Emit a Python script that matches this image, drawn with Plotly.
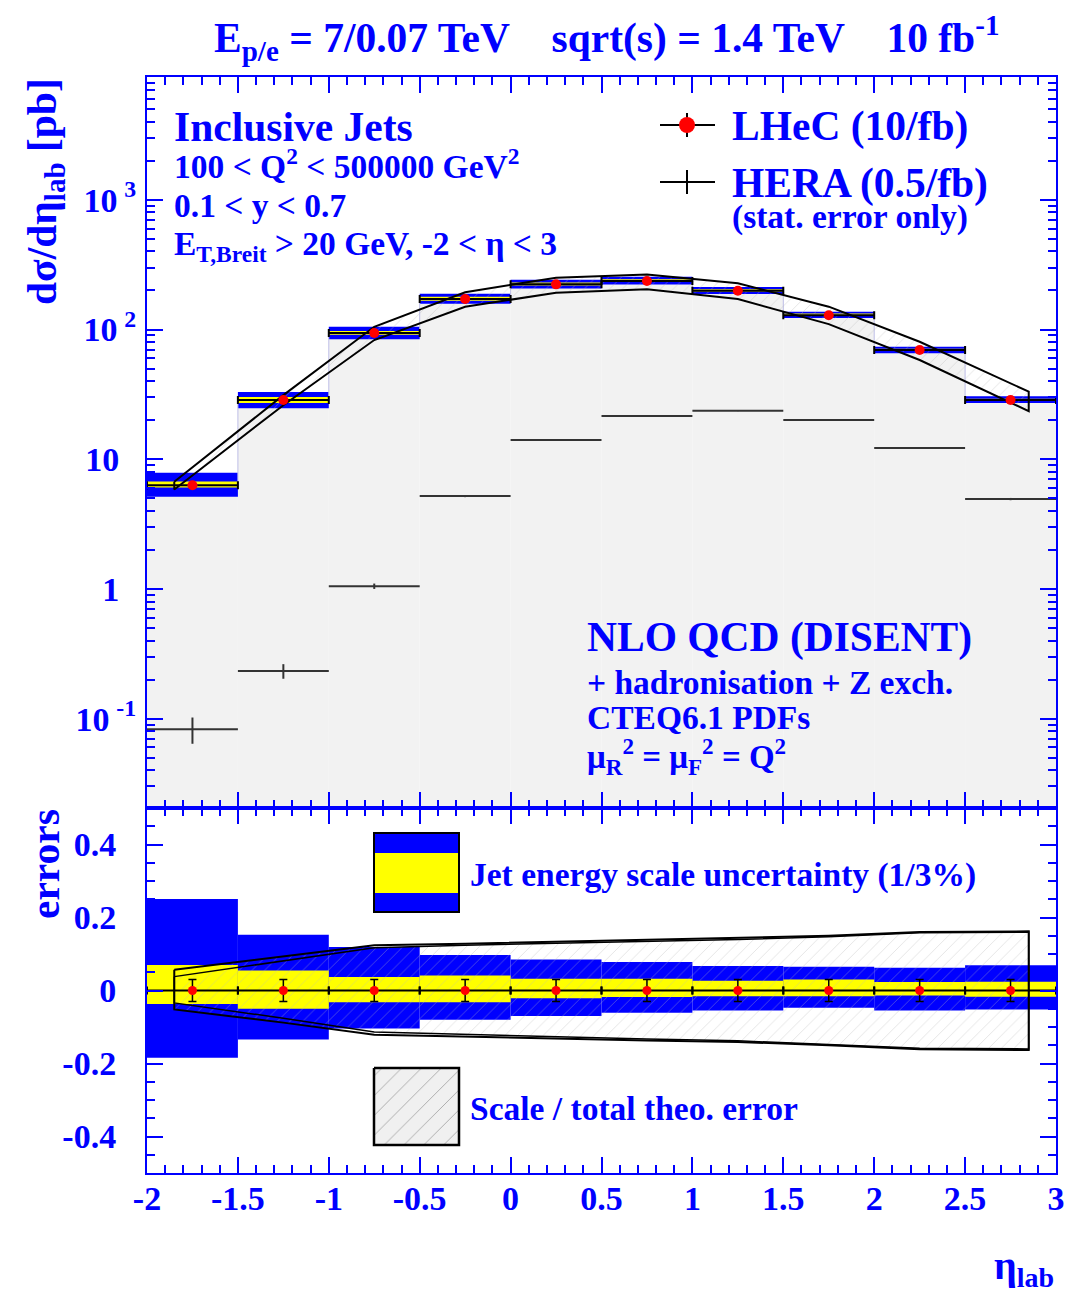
import plotly.graph_objects as go

# ---------------------------------------------------------------- data
eta_edges = [-2.0, -1.5, -1.0, -0.5, 0.0, 0.5, 1.0, 1.5, 2.0, 2.5, 3.0]
eta_centers = [-1.75, -1.25, -0.75, -0.25, 0.25, 0.75, 1.25, 1.75, 2.25, 2.75]

# LHeC simulated inclusive-jet cross section dsigma/deta_lab [pb]
lhec_xsec = [6.3, 28.6, 94.0, 172.0, 223.0, 237.0, 199.0, 129.0, 69.5, 28.6]
lhec_ratio = [0.0, 0.0, 0.0, 0.0, 0.0, 0.0, 0.0, 0.0, 0.0, 0.0]
lhec_rel_stat = [0.03, 0.03, 0.03, 0.03, 0.03, 0.03, 0.03, 0.03, 0.03, 0.03]

# HERA expectation (0.5/fb), statistical errors only
hera_xsec = [0.083, 0.233, 1.05, 5.2, 14.1, 21.5, 23.7, 20.1, 12.2, 4.93]
hera_err = [0.019, 0.030, 0.05, 0.10, 0.17, 0.20, 0.22, 0.20, 0.15, 0.10]

# jet energy scale uncertainty, relative (3% -> blue, 1% -> yellow)
jes3_up = [0.251, 0.153, 0.119, 0.097, 0.085, 0.078, 0.067, 0.065, 0.062, 0.069]
jes3_dn = [-0.184, -0.134, -0.104, -0.080, -0.070, -0.061, -0.055, -0.047, -0.055, -0.052]
jes1_up = [0.070, 0.055, 0.037, 0.041, 0.032, 0.032, 0.027, 0.030, 0.023, 0.024]
jes1_dn = [-0.037, -0.050, -0.032, -0.032, -0.021, -0.018, -0.016, -0.016, -0.014, -0.017]

# NLO theory band (DISENT) in absolute units
theo_eta = [-1.85, -1.25, -0.75, -0.25, 0.25, 0.75, 1.25, 1.75, 2.25, 2.85]
theo_up = [6.7, 31.2, 105.0, 194.0, 251.0, 266.0, 227.0, 150.0, 80.5, 33.2]
theo_dn = [5.85, 26.1, 83.0, 150.0, 192.0, 204.0, 172.0, 110.0, 58.2, 23.5]

# relative theory uncertainties: total and scale-only
tot_up = [0.057, 0.093, 0.124, 0.128, 0.133, 0.138, 0.143, 0.150, 0.160, 0.162]
tot_dn = [-0.052, -0.088, -0.121, -0.125, -0.131, -0.137, -0.141, -0.150, -0.161, -0.163]
scale_up = [0.038, 0.080, 0.117, 0.124, 0.129, 0.134, 0.140, 0.147, 0.158, 0.160]
scale_dn = [-0.034, -0.076, -0.114, -0.121, -0.127, -0.133, -0.138, -0.147, -0.158, -0.160]

top_ticks = [0.1, 1, 10, 100, 1000]
top_ticktext = ["10\u2009<sup>-1</sup>", "1\u2002", "10\u2002",
                "10\u2009<sup>2</sup>", "10\u2009<sup>3</sup>"]
err_ticks = [-0.4, -0.2, 0.0, 0.2, 0.4]
err_ticktext = ["-0.4", "-0.2", "0", "0.2", "0.4"]
eta_ticks = [-2, -1.5, -1, -0.5, 0, 0.5, 1, 1.5, 2, 2.5, 3]
eta_ticktext = ["-2", "-1.5", "-1", "-0.5", "0", "0.5", "1", "1.5", "2", "2.5", "3"]

# ---------------------------------------------------------------- layout constants
W, H = 1071, 1293
BLUE = "#0000ff"
FONT = "Liberation Serif"

X_RANGE = [-2.0, 3.0]
LOG_RANGE = [-1.689, 3.947]
ERR_RANGE = [-0.5, 0.5]
PLOT_LEFT, PLOT_RIGHT = 147, 1056
TOP_TOP, SPLIT, BOT_BOT = 77, 808, 1173


def fx(px):
    return px / W


def fy(py):
    return 1 - py / H


def lower_xy(px, py):
    """pixel position -> data coordinates of the lower (errors) panel"""
    x = X_RANGE[0] + (px - PLOT_LEFT) / (PLOT_RIGHT - PLOT_LEFT) * (X_RANGE[1] - X_RANGE[0])
    y = ERR_RANGE[1] - (py - SPLIT) / (BOT_BOT - SPLIT) * (ERR_RANGE[1] - ERR_RANGE[0])
    return x, y


fig = go.Figure()

# ---------------------------------------------------------------- upper panel
y_floor = 10 ** LOG_RANGE[0]
fig.add_bar(x=eta_centers, y=[v - y_floor for v in lhec_xsec], base=y_floor, width=0.5,
            marker=dict(color="#f2f2f2", line=dict(width=0)), xaxis="x", yaxis="y")
fig.add_bar(x=eta_centers,
            y=[v * (u - d) for v, u, d in zip(lhec_xsec, jes3_up, jes3_dn)],
            base=[v * (1 + d) for v, d in zip(lhec_xsec, jes3_dn)], width=0.5,
            marker=dict(color=BLUE, line=dict(width=0)), xaxis="x", yaxis="y")
fig.add_bar(x=eta_centers,
            y=[v * (u - d) for v, u, d in zip(lhec_xsec, jes1_up, jes1_dn)],
            base=[v * (1 + d) for v, d in zip(lhec_xsec, jes1_dn)], width=0.5,
            marker=dict(color="#ffff00", line=dict(width=0)), xaxis="x", yaxis="y")

# histogram outline
fig.add_scatter(x=eta_edges, y=lhec_xsec + [lhec_xsec[-1]], mode="lines",
                line=dict(shape="hv", color="#bdbde6", width=1), xaxis="x", yaxis="y")

# theory band
fig.add_scatter(x=theo_eta + theo_eta[::-1] + [theo_eta[0]],
                y=theo_up + theo_dn[::-1] + [theo_up[0]],
                mode="lines", fill="toself", fillcolor="rgba(0,0,0,0)",
                fillpattern=dict(shape="/", fgcolor="#b9b9b9", bgcolor="rgba(0,0,0,0)",
                                 size=9, solidity=0.08),
                line=dict(color="black", width=2), xaxis="x", yaxis="y")

# HERA
fig.add_scatter(x=eta_centers, y=hera_xsec, mode="markers",
                marker=dict(size=1, color="rgba(0,0,0,0)"),
                error_x=dict(type="constant", value=0.25, color="#333333", thickness=2, width=0),
                error_y=dict(type="data", array=hera_err, color="#333333", thickness=2, width=0),
                xaxis="x", yaxis="y")

# LHeC
fig.add_scatter(x=eta_centers, y=lhec_xsec, mode="markers",
                marker=dict(size=10, color="#ff0000"),
                error_x=dict(type="constant", value=0.25, color="black", thickness=2, width=4),
                xaxis="x", yaxis="y")

# ---------------------------------------------------------------- lower panel
fig.add_bar(x=eta_centers, y=[u - d for u, d in zip(jes3_up, jes3_dn)], base=jes3_dn, width=0.5,
            marker=dict(color=BLUE, line=dict(width=0)), xaxis="x2", yaxis="y2")
fig.add_bar(x=eta_centers, y=[u - d for u, d in zip(jes1_up, jes1_dn)], base=jes1_dn, width=0.5,
            marker=dict(color="#ffff00", line=dict(width=0)), xaxis="x2", yaxis="y2")

fig.add_scatter(x=theo_eta + theo_eta[::-1] + [theo_eta[0]],
                y=tot_up + tot_dn[::-1] + [tot_up[0]],
                mode="lines", fill="toself", fillcolor="rgba(0,0,0,0)",
                fillpattern=dict(shape="/", fgcolor="#b9b9b9", bgcolor="rgba(0,0,0,0)",
                                 size=9, solidity=0.08),
                line=dict(color="black", width=2), xaxis="x2", yaxis="y2")
fig.add_scatter(x=theo_eta + theo_eta[::-1] + [theo_eta[0]],
                y=scale_up + scale_dn[::-1] + [scale_up[0]],
                mode="lines", line=dict(color="black", width=1.5), xaxis="x2", yaxis="y2")

fig.add_scatter(x=eta_centers, y=lhec_ratio, mode="markers",
                marker=dict(size=9, color="#ff0000"),
                error_x=dict(type="constant", value=0.25, color="black", thickness=2, width=4),
                error_y=dict(type="data", array=lhec_rel_stat, color="black", thickness=1.5, width=4),
                xaxis="x2", yaxis="y2")

# key swatch for the theory band
bx0, by0 = lower_xy(374, 1068)
bx1, by1 = lower_xy(459, 1145)
fig.add_scatter(x=[bx0, bx1, bx1, bx0, bx0], y=[by0, by0, by1, by1, by0], mode="lines",
                fill="toself", fillcolor="rgba(0,0,0,0)",
                fillpattern=dict(shape="/", fgcolor="#555555", bgcolor="#f0f0f0", size=14, solidity=0.06),
                line=dict(color="black", width=2.5), xaxis="x2", yaxis="y2")

# key swatch for the jet energy scale bands
shapes = []
jx0, jy0 = lower_xy(374, 833)
jx1, jy1 = lower_xy(459, 912)
_, yy0 = lower_xy(374, 853)
_, yy1 = lower_xy(374, 893)
shapes.append(dict(type="rect", xref="x2", yref="y2", x0=jx0, x1=jx1, y0=jy0, y1=jy1,
                   fillcolor=BLUE, line=dict(width=0)))
shapes.append(dict(type="rect", xref="x2", yref="y2", x0=jx0, x1=jx1, y0=yy0, y1=yy1,
                   fillcolor="#ffff00", line=dict(width=0)))
shapes.append(dict(type="rect", xref="x2", yref="y2", x0=jx0, x1=jx1, y0=jy0, y1=jy1,
                   fillcolor="rgba(0,0,0,0)", line=dict(color="black", width=2)))

# legend markers of the upper panel (paper coordinates)
for py in (125, 182):
    shapes.append(dict(type="line", xref="paper", yref="paper", x0=fx(660), x1=fx(715),
                       y0=fy(py), y1=fy(py), line=dict(color="black", width=2)))
    shapes.append(dict(type="line", xref="paper", yref="paper", x0=fx(687), x1=fx(687),
                       y0=fy(py - 12), y1=fy(py + 12), line=dict(color="black", width=2)))
shapes.append(dict(type="circle", xref="paper", yref="paper", x0=fx(679), x1=fx(695),
                   y0=fy(117), y1=fy(133), fillcolor="#ff0000", line=dict(width=0)))

# ---------------------------------------------------------------- text
def label(text, px, py, size, xanchor="left", angle=0):
    return dict(text=text, x=fx(px), y=fy(py), xref="paper", yref="paper",
                xanchor=xanchor, yanchor="middle", showarrow=False, textangle=angle,
                font=dict(family=FONT, size=size, color=BLUE, weight="bold"))


NB = "\u00a0"
annotations = [
    label(f"E<sub>p/e</sub> = 7/0.07 TeV{NB*4}sqrt(s) = 1.4 TeV{NB*4}10 fb<sup>-1</sup>",
          606, 38, 41.5, xanchor="center"),
    label("Inclusive Jets", 172, 127, 41.5),
    label("100 &lt; Q<sup>2</sup> &lt; 500000 GeV<sup>2</sup>", 172, 164, 33.5),
    label("0.1 &lt; y &lt; 0.7", 172, 206, 33.5),
    label("E<sub>T,Breit</sub> &gt; 20 GeV, -2 &lt; η &lt; 3", 172, 246, 33.5),
    label("LHeC (10/fb)", 730, 126, 41.5),
    label("HERA (0.5/fb)", 730, 183, 41.5),
    label("(stat. error only)", 730, 217, 33.5),
    label("NLO QCD (DISENT)", 585, 638, 41.5),
    label("+ hadronisation + Z exch.", 585, 682, 33.5),
    label("CTEQ6.1 PDFs", 585, 717, 33.5),
    label("μ<sub>R</sub><sup>2</sup> = μ<sub>F</sub><sup>2</sup> = Q<sup>2</sup>", 585, 756, 33),
    label("Jet energy scale uncertainty (1/3%)", 468, 875, 33.5),
    label("Scale / total theo. error", 468, 1108, 33.5),
    label("dσ/dη<sub>lab</sub> [pb]", 45, 192, 41.5, xanchor="center", angle=-90),
    label("errors", 45, 864, 41.5, xanchor="center", angle=-90),
    label("η<sub>lab</sub>", 1024, 1268, 40, xanchor="center"),
]

# ---------------------------------------------------------------- axes
tickfont = dict(family=FONT, size=34, color=BLUE, weight="bold")
common = dict(showline=True, linecolor=BLUE, linewidth=2, mirror="ticks", ticks="inside",
              tickcolor=BLUE, tickwidth=2, ticklen=16, showgrid=False, zeroline=False,
              tickfont=tickfont, automargin=False)
x_domain = [fx(PLOT_LEFT), fx(PLOT_RIGHT)]

log_minor = [m * 10 ** e for e in range(-2, 4) for m in range(2, 10)]

fig.update_layout(
    width=W, height=H, margin=dict(l=0, r=0, t=0, b=0, autoexpand=False),
    paper_bgcolor="white", plot_bgcolor="white",
    showlegend=False, barmode="overlay", hovermode=False,
    shapes=shapes, annotations=annotations,
    xaxis=dict(domain=x_domain, anchor="y", range=X_RANGE, tickmode="array", tickvals=eta_ticks,
               showticklabels=False,
               minor=dict(ticks="inside", dtick=0.1, tick0=-2, ticklen=8, tickwidth=1.5,
                          tickcolor=BLUE),
               **common),
    yaxis=dict(domain=[fy(SPLIT), fy(TOP_TOP)], anchor="x", type="log", range=LOG_RANGE,
               tickmode="array", tickvals=top_ticks, ticktext=top_ticktext,
               ticklabelstandoff=2,
               minor=dict(ticks="inside", tickmode="array", tickvals=log_minor, ticklen=8,
                          tickwidth=1.5, tickcolor=BLUE),
               **common),
    xaxis2=dict(domain=x_domain, anchor="y2", range=X_RANGE, tickmode="array",
                tickvals=eta_ticks, ticktext=eta_ticktext, ticklabelstandoff=-6,
                minor=dict(ticks="inside", dtick=0.1, tick0=-2, ticklen=8, tickwidth=1.5,
                           tickcolor=BLUE),
                **common),
    yaxis2=dict(domain=[fy(BOT_BOT), fy(SPLIT)], anchor="x2", range=ERR_RANGE,
                tickmode="array", tickvals=err_ticks, ticktext=err_ticktext,
                ticklabelstandoff=22,
                minor=dict(ticks="inside", dtick=0.05, tick0=0, ticklen=8, tickwidth=1.5,
                           tickcolor=BLUE),
                **common),
)

fig.write_html("out.html")
